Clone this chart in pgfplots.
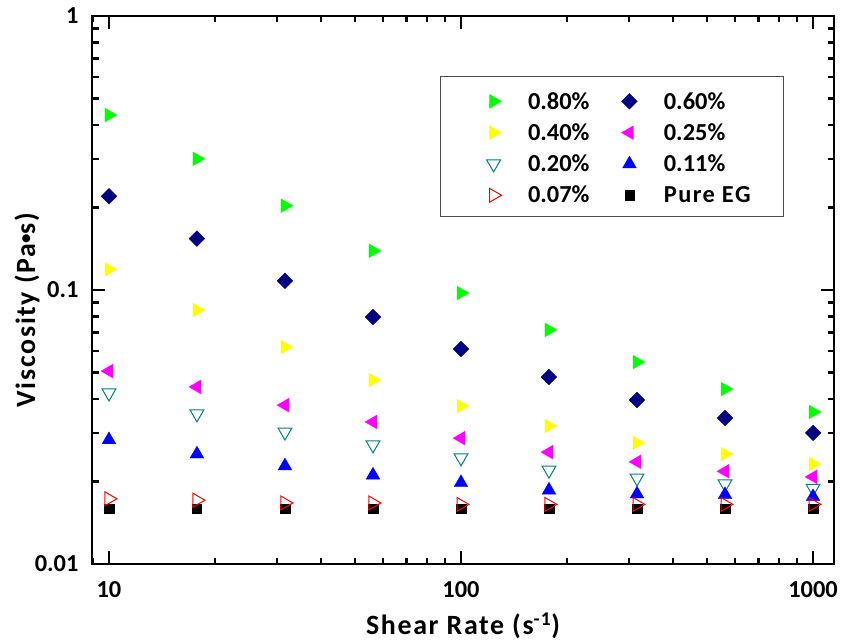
\documentclass[border=0pt]{standalone}
\usepackage{fontspec}
\setmainfont{Carlito}
\usepackage{pgfplots}
\pgfplotsset{compat=1.18}
\definecolor{cGreen}{RGB}{0,255,0}
\definecolor{cNavy}{RGB}{0,0,128}
\definecolor{cYellow}{RGB}{255,255,0}
\definecolor{cMag}{RGB}{255,0,255}
\definecolor{cTeal}{RGB}{0,128,128}
\definecolor{cBlue}{RGB}{0,0,255}
\definecolor{cRed}{RGB}{255,0,0}
\newfontfamily\spaced[LetterSpace=6]{Carlito}

\begin{document}
\begin{tikzpicture}
\begin{axis}[
  xmode=log, ymode=log,
  scale only axis, width=742bp, height=548bp,
  xmin=8.95, xmax=1147, ymin=0.01, ymax=1,
  log ticks with fixed point,
  /pgf/number format/1000 sep={},
  /pgf/number format/assume math mode=true,
  tick align=inside,
  major tick length=13bp, minor tick length=6.5bp,
  every tick/.style={black, line width=2.2bp},
  axis line style={line width=2.8bp},
  ticklabel style={font=\fontsize{24.5}{26}\selectfont\bfseries},
  xticklabel style={anchor=base, yshift=-33bp},
  yticklabel style={anchor=east, xshift=-10bp},
  xlabel={{\spaced\bfseries Shear Rate (s\textsuperscript{-1})}},
  xlabel style={font=\fontsize{28}{30}\selectfont, at={(axis description cs:0.5,-0.128)}, anchor=base},
  ylabel={{\spaced\bfseries Viscosity (Pa\raisebox{0.12em}{\fontsize{19}{19}\selectfont•}s)}},
  ylabel style={font=\fontsize{28}{30}\selectfont, at={(axis description cs:-0.0768,0.4635)}, anchor=base},
  legend columns=2,
  legend cell align=left,
  legend style={at={(axis description cs:0.5317,0.865)}, anchor=north west,
    draw=none, fill=none, inner xsep=0pt, inner ysep=0pt, row sep=9bp,
    font=\fontsize{24.5}{26}\selectfont\bfseries,
    /tikz/every odd column/.append style={column sep=24.5bp},
    /tikz/every even column/.append style={column sep=30bp}},
]
\draw[black!70, line width=1bp] (axis description cs:0.469,0.8905) rectangle (axis description cs:0.9313,0.635);
\addplot[only marks, mark=triangle*, mark size=8, mark options={rotate=-90, fill=cGreen, draw=cGreen, line width=0.3bp}]
  coordinates {(10,0.435) (17.78,0.301) (31.62,0.203) (56.23,0.139) (100,0.0975) (177.8,0.0715) (316.2,0.0546) (562.3,0.0435) (1000,0.0359)};
\addlegendentry{0.80\%}
\addplot[only marks, mark=square*, mark size=5.6, mark options={rotate=45, fill=cNavy, draw=cNavy, line width=0.3bp}]
  coordinates {(10,0.220) (17.78,0.154) (31.62,0.108) (56.23,0.0797) (100,0.0609) (177.8,0.0481) (316.2,0.0397) (562.3,0.0341) (1000,0.0301)};
\addlegendentry{0.60\%}
\addplot[only marks, mark=triangle*, mark size=8, mark options={rotate=-90, fill=cYellow, draw=cYellow, line width=0.3bp}]
  coordinates {(10,0.119) (17.78,0.0845) (31.62,0.0619) (56.23,0.0469) (100,0.0377) (177.8,0.0319) (316.2,0.0277) (562.3,0.0252) (1000,0.0232)};
\addlegendentry{0.40\%}
\addplot[only marks, mark=triangle*, mark size=8, mark options={rotate=90, fill=cMag, draw=cMag, line width=0.3bp}]
  coordinates {(10,0.0506) (17.78,0.0443) (31.62,0.0380) (56.23,0.0330) (100,0.0288) (177.8,0.0256) (316.2,0.0236) (562.3,0.0218) (1000,0.0208)};
\addlegendentry{0.25\%}
\addplot[only marks, mark=triangle, mark size=8, mark options={rotate=180, draw=cTeal, line width=1bp}]
  coordinates {(10,0.0421) (17.78,0.0353) (31.62,0.0303) (56.23,0.0272) (100,0.0244) (177.8,0.0220) (316.2,0.0206) (562.3,0.0196) (1000,0.0189)};
\addlegendentry{0.20\%}
\addplot[only marks, mark=triangle*, mark size=8, mark options={fill=cBlue, draw=cBlue, line width=0.3bp}]
  coordinates {(10,0.0284) (17.78,0.0252) (31.62,0.0228) (56.23,0.0211) (100,0.0198) (177.8,0.0186) (316.2,0.0180) (562.3,0.0179) (1000,0.0176)};
\addlegendentry{0.11\%}
\addplot[only marks, mark=square*, mark size=4.7, mark options={fill=black, draw=black, line width=0.3bp}, forget plot]
  coordinates {(10,0.0159) (17.78,0.0159) (31.62,0.0159) (56.23,0.0159) (100,0.0159) (177.8,0.0159) (316.2,0.0159) (562.3,0.0159) (1000,0.0159)};
\addplot[only marks, mark=triangle, mark size=8, mark options={rotate=-90, draw=cRed, line width=1bp}]
  coordinates {(10,0.0173) (17.78,0.0171) (31.62,0.0167) (56.23,0.0167) (100,0.0165) (177.8,0.0165) (316.2,0.0165) (562.3,0.0165) (1000,0.0165)};
\addlegendentry{0.07\%}
\addlegendimage{only marks, mark=square*, mark size=4.7, mark options={fill=black, draw=black}}
\addlegendentry{{\spaced Pure EG}}
\coordinate (O) at (rel axis cs:0,0);
\end{axis}
\pgfresetboundingbox
\path (O) ++(-92bp,-76bp) rectangle ++(845bp,640bp);
\end{tikzpicture}
\end{document}
